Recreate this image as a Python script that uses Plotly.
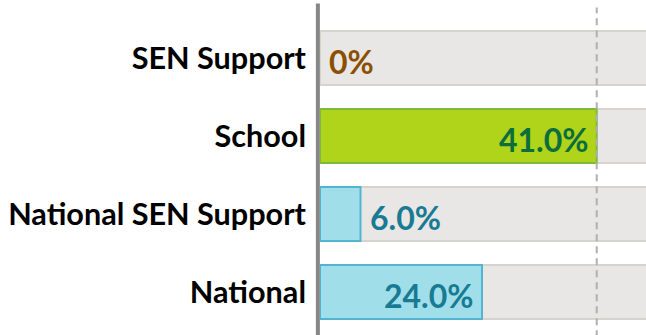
import plotly.graph_objects as go

# Progress categories, top to bottom
categories = ["SEN Support", "School", "National SEN Support", "National"]
values = [0.0, 41.0, 6.0, 24.0]
value_labels = ["0%", "41.0%", "6.0%", "24.0%"]

# Styling per row
bar_fill = ["#b0d41a", "#b0d41a", "#a0dfea", "#a0dfea"]
bar_edge = ["#7fb83c", "#7fb83c", "#52b5d0", "#52b5d0"]
label_color = ["#8a5000", "#0b6e3c", "#187a93", "#187a93"]

track_max = 100.0          # full-scale track behind each bar
reference_line = 41.0      # dashed reference marker
x_range = [0, 48.3]
inside_min = 10.0          # values below this get their label outside the bar

fig = go.Figure()

# grey track bars
fig.add_trace(go.Bar(
    y=categories, x=[track_max] * len(categories), orientation="h",
    marker=dict(color="#e8e7e5", line=dict(color="#d6d5cd", width=2)),
    width=0.69, hoverinfo="skip", showlegend=False,
))

# value bars (no outline on empty bars)
fig.add_trace(go.Bar(
    y=categories, x=values, orientation="h",
    marker=dict(color=bar_fill,
                line=dict(color=bar_edge, width=[2 if v > 0 else 0 for v in values])),
    width=0.69, showlegend=False,
))

# value labels
for cat, v, txt, col in zip(categories, values, value_labels, label_color):
    inside = v >= inside_min
    fig.add_annotation(
        x=v, y=cat, text=f"<b>{txt}</b>", showarrow=False,
        xanchor="right" if inside else "left",
        xshift=-6 if inside else 7, yshift=-3,
        font=dict(family="Lato", size=32, color=col),
    )

# dashed reference line
fig.add_shape(
    type="line", xref="x", yref="paper",
    x0=reference_line, x1=reference_line, y0=-0.02, y1=1.037,
    line=dict(color="#b0b0b0", width=2, dash="7px,5px"),
)

# left axis rule
fig.add_shape(
    type="line", xref="paper", yref="paper",
    x0=-0.0065, x1=-0.0065, y0=-0.02, y1=1.05,
    line=dict(color="#878787", width=4),
)

fig.update_layout(
    width=646, height=335,
    margin=dict(l=320, r=0, t=19, b=4),
    barmode="overlay",
    plot_bgcolor="white", paper_bgcolor="white",
    font=dict(family="Lato", color="black"),
    xaxis=dict(range=x_range, visible=False, fixedrange=True),
    yaxis=dict(
        autorange="reversed", showgrid=False, zeroline=False, showline=False,
        ticks="", ticklabelstandoff=13,
        tickfont=dict(family="Lato", size=30.6, color="black", weight="bold"),
    ),
)

fig.write_html("out.html")
